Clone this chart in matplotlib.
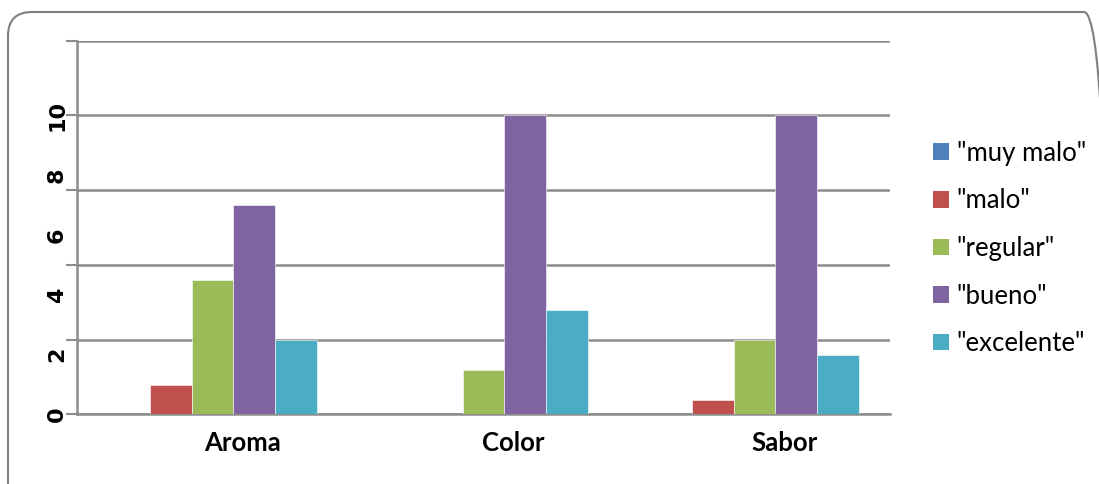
import matplotlib
matplotlib.use("Agg")
import matplotlib.pyplot as plt
import numpy as np
from matplotlib.patches import FancyBboxPatch, Patch
from matplotlib.transforms import IdentityTransform, ScaledTranslation

categories = ["Aroma", "Color", "Sabor"]
series_names = ['"muy malo"', '"malo"', '"regular"', '"bueno"', '"excelente"']
muy_malo = [0, 0, 0]
malo = [1, 0, 0.5]
regular = [4.5, 1.5, 2.5]
bueno = [7, 10, 10]
excelente = [2.5, 3.5, 2]
colors = ["#4F81BD", "#C0504D", "#9BBB59", "#8064A2", "#4BACC6"]
ytick_values = [0, 2, 4, 6, 8, 10]
ytick_labels = ["0", "2", "4", "6", "8", "10"]

values = [muy_malo, malo, regular, bueno, excelente]

fig = plt.figure(figsize=(10.99, 4.84), dpi=100)
fig.set_facecolor("white")
ax = fig.add_axes([0.0701, 0.1436, 0.7398, 0.7727])

x = np.arange(len(categories))
w = 0.154
for i, vals in enumerate(values):
    ax.bar(x + (i - 2) * w, vals, width=w, color=colors[i],
           edgecolor="white", linewidth=0.4, zorder=3)

ax.set_xlim(-0.5, 2.5)
ax.set_ylim(0, 12.5)

# gridlines / tick marks every 2.5
ax.set_yticks(np.arange(0, 12.6, 2.5))
ax.yaxis.grid(True, color="#8c8c8c", linewidth=1.8, zorder=0)
ax.tick_params(axis="y", which="major", length=8, width=1.5,
               color="#8c8c8c", labelleft=False)

# number labels (rotated, bold)
ytrans = ax.get_yaxis_transform() + ScaledTranslation(-10 / 100, 0, fig.dpi_scale_trans)
for v, lab in zip(ytick_values, ytick_labels):
    ax.text(0, v, lab, transform=ytrans, rotation=90, ha="right", va="center",
            fontsize=16, fontweight="bold", family="DejaVu Sans")

ax.set_xticks(x)
ax.set_xticklabels(categories, fontsize=18.5, fontweight="bold", family="Lato")
ax.tick_params(axis="x", length=0, pad=12)
shift = ScaledTranslation(0.3, 0, fig.dpi_scale_trans)
for lab in ax.get_xticklabels():
    lab.set_transform(lab.get_transform() + shift)

for s in ["top", "right"]:
    ax.spines[s].set_visible(False)
ax.spines["left"].set_color("#8c8c8c")
ax.spines["left"].set_linewidth(1.8)
ax.spines["bottom"].set_color("#8c8c8c")
ax.spines["bottom"].set_linewidth(1.8)

handles = [Patch(facecolor=c, edgecolor="none") for c in colors]
fig.legend(handles, series_names, loc="center left",
           bbox_to_anchor=(0.849, 0.4866), frameon=False,
           prop={"family": "Lato", "size": 18.5},
           handlelength=0.62, handleheight=0.62, handletextpad=0.3,
           labelspacing=0.88, borderpad=0, borderaxespad=0)

# chart area border
border = FancyBboxPatch((8, -30), 1100, 502,
                        boxstyle="round,pad=0,rounding_size=24",
                        transform=IdentityTransform(), facecolor="none",
                        edgecolor="#7f7f7f", linewidth=1.5)
fig.patches.append(border)

fig.savefig("out.png", dpi=100, facecolor="white")
